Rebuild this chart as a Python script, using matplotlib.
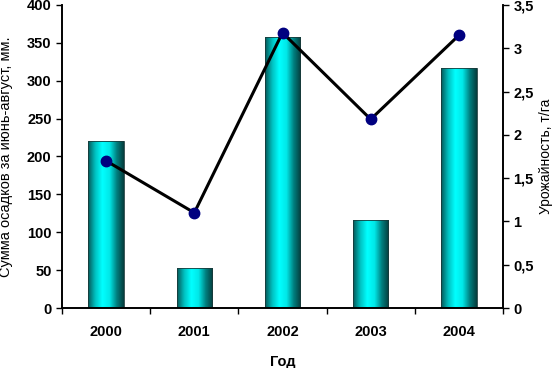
import numpy as np
import matplotlib.pyplot as plt
from matplotlib.colors import LinearSegmentedColormap
from matplotlib.ticker import FuncFormatter

years = ['2000', '2001', '2002', '2003', '2004']
rain = [220, 53, 358, 116, 317]
yield_t = [1.7, 1.1, 3.18, 2.18, 3.15]

plt.rcParams['font.family'] = ['Liberation Sans', 'DejaVu Sans']

fig = plt.figure(figsize=(5.6, 3.68), dpi=100)
ax = fig.add_axes([62 / 560, 60 / 368, 441 / 560, 303 / 368])
ax2 = ax.twinx()

x = np.arange(len(years))
bars = ax.bar(x, rain, width=0.4, color='none', edgecolor='#1a3a3a', linewidth=0.6, zorder=2)

# цилиндрическая заливка
cmap = LinearSegmentedColormap.from_list('cyl', ['#055555', '#00c0c0', '#00ffff', '#00e8e8', '#008080', '#053c3c'])
grad = np.linspace(0, 1, 256).reshape(1, -1)
for b in bars:
    x0, w, h = b.get_x(), b.get_width(), b.get_height()
    im = ax.imshow(grad, cmap=cmap, aspect='auto', extent=[x0, x0 + w, 0, h], zorder=1)
    im.set_clip_path(b)

ax.set_xlim(-0.5, len(years) - 0.5)
ax.set_ylim(0, 400)
ax.set_yticks(range(0, 401, 50))
ax.set_xticks(x)
ax.set_xticklabels(years, fontweight='bold', fontsize=10.5)
ax.set_xticks(np.arange(-0.5, len(years)), minor=True)
ax.tick_params(axis='x', which='major', length=0, pad=12)
ax.tick_params(axis='x', which='minor', length=4, direction='out', width=1)
ax.tick_params(axis='y', length=4, width=1, direction='out', labelsize=10.5)
for t in ax.get_yticklabels():
    t.set_fontweight('bold')
ax.set_xlabel('Год', fontweight='bold', fontsize=10.5, labelpad=12)
ax.set_ylabel('Сумма осадков за июнь-август, мм.', fontsize=10.5)
ax.yaxis.set_label_coords(-0.11, 0.5)

ax2.plot(x, yield_t, color='black', linewidth=2.2, marker='o', markersize=7.5,
         markerfacecolor='#000080', markeredgecolor='#000080', zorder=3)
ax2.set_ylim(0, 3.5)
ax2.set_yticks(np.arange(0, 3.51, 0.5))
ax2.yaxis.set_major_formatter(FuncFormatter(lambda v, p: ('%g' % v).replace('.', ',')))
ax2.tick_params(axis='y', length=4, width=1, direction='out', labelsize=10.5)
for t in ax2.get_yticklabels():
    t.set_fontweight('bold')
ax2.set_ylabel('Урожайность, т/га', fontsize=10, labelpad=4)

for a in (ax, ax2):
    a.spines['top'].set_visible(False)
    for s in ('left', 'right', 'bottom'):
        a.spines[s].set_linewidth(1.2)

fig.savefig('out.png', dpi=100)
